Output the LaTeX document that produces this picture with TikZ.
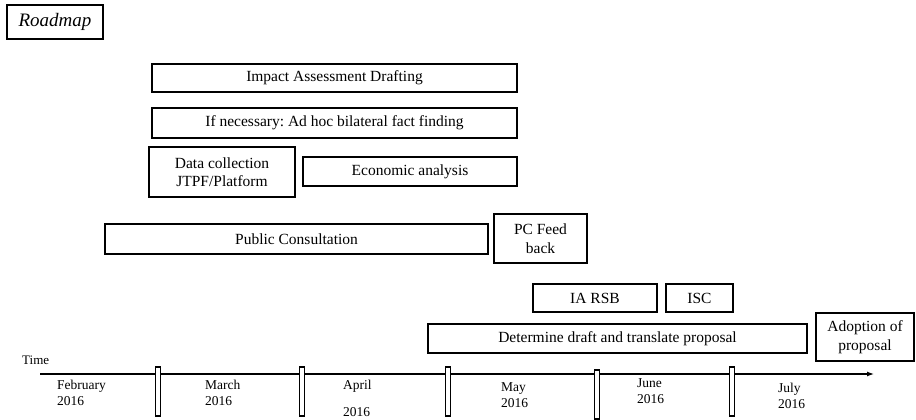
\documentclass[tikz,border=0pt]{standalone}
\usepackage{fontspec}
\setmainfont{Liberation Serif}
\usetikzlibrary{arrows.meta,positioning}
\frenchspacing

\begin{document}
\begin{tikzpicture}[x=1pt,y=-1pt,>={Latex[length=7pt,width=5pt]},
  box/.style={draw,line width=1.3pt,inner sep=0pt,align=center,font=\fontsize{15.5}{18.5}\selectfont},
  month/.style={anchor=west,align=left,inner sep=0pt,font=\fontsize{13.5}{16}\selectfont},
  tick/.style={draw,fill=white,line width=1.2pt,minimum width=5pt,minimum height=49pt,inner sep=0pt}]
  \useasboundingbox (0,0) rectangle (916,420);
  % title
  \node (roadmap) [box,line width=1.8pt,minimum width=96pt,minimum height=34pt,font=\fontsize{19}{22}\selectfont\itshape] at (55,22) {Roadmap};
  % activities
  \node (iad) [box,minimum width=365pt,minimum height=28pt] at (334.5,78) {Impact Assessment Drafting};
  \node (adhoc) [box,minimum width=365pt,minimum height=30pt] at (334.5,123) {If necessary: Ad hoc bilateral fact finding};
  \node (datac) [box,minimum width=146pt,minimum height=50pt] at (222,172) {Data collection\\JTPF/Platform};
  \node (econ) [box,minimum width=214pt,minimum height=29pt] at (410,171.5) {Economic analysis};
  \node (pc) [box,minimum width=383pt,minimum height=30pt] at (296.5,239) {Public Consultation};
  \node (pcfb) [box,minimum width=93pt,minimum height=49pt] at (540.5,238.5) {PC Feed\\back};
  \node (iarsb) [box,minimum width=124pt,minimum height=28pt] at (595,298) {IA RSB};
  \node (isc) [box,minimum width=67pt,minimum height=28pt] at (699.5,298) {ISC};
  \node (draft) [box,minimum width=379pt,minimum height=29pt] at (617.5,338.5) {Determine draft and translate proposal};
  \node (adopt) [box,minimum width=98pt,minimum height=48pt] at (865,337) {Adoption of\\proposal};
  % time axis
  \node (time) [anchor=west,inner sep=0pt,font=\fontsize{13}{15}\selectfont] at (22,360) {Time};
  \coordinate (t0) at (40,374);
  \coordinate (tend) at (874,374);
  \draw[->,line width=1.2pt] (t0) -- (tend);
  \foreach \n/\x/\y in {1/158/391.5,2/302/391.5,3/448/391.5,4/597/394.5,5/732/391.5}
    \node (tk\n) [tick] at (\x,\y) {};
  \node (feb) [month] at (57,393) {February\\2016};
  \node (mar) [month] at (205,393) {March\\2016};
  \node (apr) [month] at (343,398.5) {April\\[11pt]2016};
  \node (may) [month] at (501,395.5) {May\\2016};
  \node (jun) [month] at (637,391.5) {June\\2016};
  \node (jul) [month] at (778,395.5) {July\\2016};
\end{tikzpicture}
\end{document}
